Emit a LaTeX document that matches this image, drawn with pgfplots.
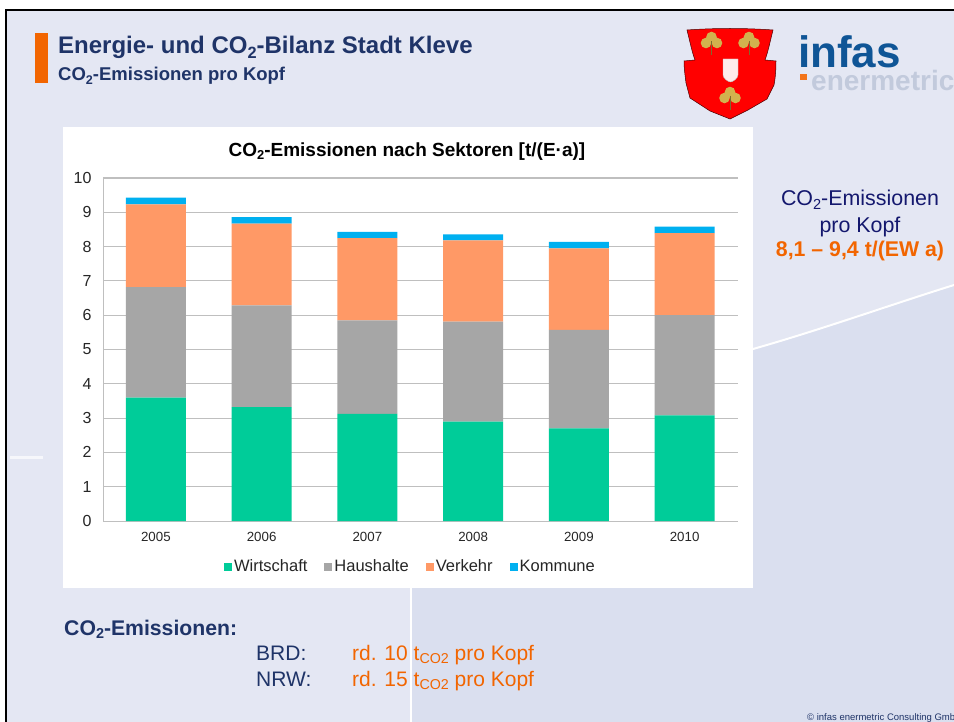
\documentclass[border=0pt]{standalone}
\usepackage{fontspec}
\setmainfont{Liberation Sans}
\usepackage{pgfplots}
\usepackage{pgfplotstable}
\pgfplotsset{compat=1.18}

\definecolor{slidebg}{HTML}{E4E7F3}
\definecolor{slidedark}{HTML}{DADFEF}
\definecolor{navy}{HTML}{1F3468}
\definecolor{ink}{HTML}{14186E}
\definecolor{accent}{HTML}{F26500}
\definecolor{wirtschaft}{HTML}{00CC99}
\definecolor{haushalte}{HTML}{A6A6A6}
\definecolor{verkehr}{HTML}{FF9966}
\definecolor{kommune}{HTML}{00B0F0}
\definecolor{gridgray}{HTML}{BFBFBF}
\definecolor{clover}{HTML}{D2B24E}
\definecolor{logoblue}{HTML}{0F5596}
\definecolor{logogray}{HTML}{C2CADC}

\newcommand{\fs}[1]{\fontsize{#1}{#1}\selectfont}
\newcommand{\low}[1]{\raisebox{-0.32ex}{\scalebox{0.68}{#1}}}

\pgfplotstableread{
idx year W H V K
0 2005 3.60 3.22 2.41 0.20
1 2006 3.32 2.97 2.38 0.19
2 2007 3.12 2.73 2.40 0.18
3 2008 2.90 2.91 2.37 0.18
4 2009 2.70 2.87 2.38 0.19
5 2010 3.08 2.92 2.39 0.19
}\emissions

\begin{document}
\begin{tikzpicture}
\useasboundingbox (0pt,-722pt) rectangle (954pt,0pt);
\clip (0pt,-722pt) rectangle (954pt,0pt);

% slide background
\begin{scope}[x=1pt,y=-1pt]
\fill[white] (0,0) rectangle (954,722);
\fill[slidebg] (6,10) rectangle (954,722);
\fill[slidedark] (411,360) -- (753,349) .. controls (820,330) and (890,305) .. (954,285) -- (954,722) -- (411,722) -- cycle;
\draw[white,line width=2pt] (753,349) .. controls (820,330) and (890,305) .. (954,285);
\draw[white,line width=2pt] (411,585) -- (411,722);
\draw[white,line width=3pt,opacity=0.7] (10,457) -- (43,457);
\draw[black,line width=2.5pt] (954,10) -- (6,10) -- (6,722);
\fill[accent] (35,33) rectangle (48,83);
\fill[white] (63,127) rectangle (753,588);

% coat of arms
\fill[red,draw=black!70!red,line width=0.5pt] (687,30) .. controls (715,28) and (745,28) .. (773,30)
  .. controls (770,42) and (768,52) .. (765,60) -- (776,61) .. controls (776,72) and (775,80) .. (774,85)
  -- (767,99) -- (748,110) -- (730,119)
  -- (710,111) -- (690,98) -- (686,83) .. controls (685,75) and (684,68) .. (684,61) -- (695,60)
  .. controls (692,52) and (690,42) .. cycle;
\fill[draw=gray!50,fill=red!8!white] (723,59) -- (738,59) -- (738,75) .. controls (738,78) and (733,82) .. (730.5,82)
  .. controls (728,82) and (723,78) .. (723,75) -- cycle;
\foreach \cx/\cy in {711.5/41,749/41,730/96} {
  \fill[clover] (\cx,\cy-4) circle (5.3) (\cx-5.5,\cy+2) circle (5.3) (\cx+5.5,\cy+2) circle (5.3);
  \draw[clover!60!black,line width=0.7pt] (\cx,\cy) -- (\cx,\cy+14);
}

% infas logo
\node[anchor=base west,inner sep=0pt,text depth=0pt,text=logoblue] at (798,68) {\fs{44}\bfseries infas};
\fill[accent!90!white] (800,74) rectangle (807,80);
\node[anchor=base west,inner sep=0pt,text height=14pt,text=logogray] at (811,91) {\fs{28}\bfseries enermetric};

% slide text
\node[anchor=base west,inner sep=0pt,text=navy] at (58,54) {\fs{24}\bfseries Energie- und CO\low{2}-Bilanz Stadt Kleve};
\node[anchor=base west,inner sep=0pt,text=navy] at (58,81) {\fs{18.5}\bfseries CO\low{2}-Emissionen pro Kopf};
\end{scope}

\begin{axis}[
    at={(103pt,-521pt)}, anchor=south west,
    scale only axis, width=634.5pt, height=343pt,
    ybar stacked, bar width=60pt,
    xmin=-0.5, xmax=5.5, ymin=0, ymax=10,
    xtick={0,1,2,3,4,5},
    xticklabels={2005,2006,2007,2008,2009,2010},
    ytick={0,1,...,10},
    axis x line=bottom, axis y line=left,
    axis line style={-,draw=gridgray,line width=1pt},
    ymajorgrids, grid style={draw=gridgray,line width=1pt},
    major tick length=0pt,
    /pgf/number format/assume math mode=true,
    xticklabel style={font=\fs{13.3},text=black!85,yshift=-8pt},
    yticklabel style={font=\fs{16},text=black!85,xshift=-8pt},
    title={\fs{19}\bfseries CO\low{2}-Emissionen nach Sektoren [t/(E·a)]},
    title style={at={(0.479,1)},anchor=base,yshift=16pt},
    legend style={at={(0.4846,-0.134)},anchor=center,draw=none,fill=none,
      legend columns=-1,font=\fs{16.5},text=black!85,inner sep=0pt,
      nodes={text height=12pt,text depth=3.5pt},
      /tikz/every even column/.append style={column sep=15pt}},
    legend image code/.code={\fill[#1] (0pt,-4pt) rectangle (8pt,4pt);},
]
\addplot[fill=wirtschaft,draw=none] table[x=idx,y=W] {\emissions};
\addplot[fill=haushalte,draw=none] table[x=idx,y=H] {\emissions};
\addplot[fill=verkehr,draw=none] table[x=idx,y=V] {\emissions};
\addplot[fill=kommune,draw=none] table[x=idx,y=K] {\emissions};
\legend{Wirtschaft,Haushalte,Verkehr,Kommune}
\end{axis}

\begin{scope}[x=1pt,y=-1pt]
\node[anchor=base,inner sep=0pt,text=ink] at (860,206) {\fs{21.4}CO\low{2}-Emissionen};
\node[anchor=base,inner sep=0pt,text=ink] at (860,233) {\fs{21.4}pro Kopf};
\node[anchor=base,inner sep=0pt,text=accent] at (860,257) {\fs{21.3}\bfseries 8,1 – 9,4 t/(EW a)};
\node[anchor=base west,inner sep=0pt,text=navy] at (64,635) {\fs{21.2}\bfseries CO\low{2}-Emissionen:};
\node[anchor=base west,inner sep=0pt,text=navy] at (256,660) {\fs{21}BRD:};
\node[anchor=base west,inner sep=0pt,text=navy] at (256,686) {\fs{21}NRW:};
\node[anchor=base west,inner sep=0pt,text=accent] at (352,660) {\fs{21}rd. 10 t\low{CO2} pro Kopf};
\node[anchor=base west,inner sep=0pt,text=accent] at (352,686) {\fs{21}rd. 15 t\low{CO2} pro Kopf};
\node[anchor=base west,inner sep=0pt,text=navy] at (807,720.5) {\fs{9.5}© infas enermetric Consulting GmbH};
\end{scope}
\end{tikzpicture}
\end{document}
